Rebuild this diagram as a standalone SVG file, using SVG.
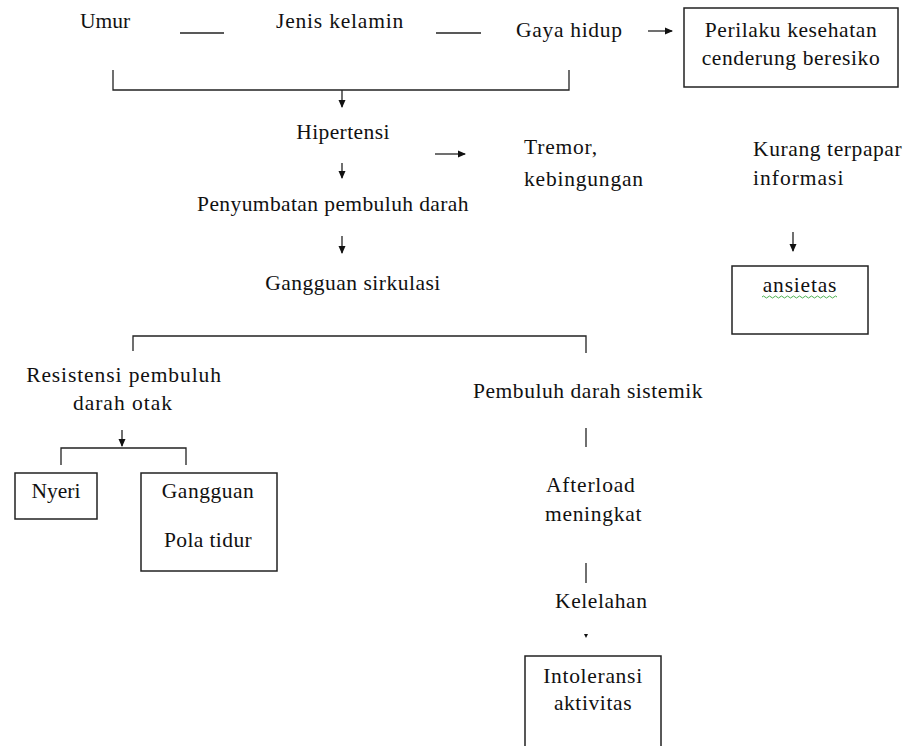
<svg xmlns="http://www.w3.org/2000/svg" width="910" height="746" viewBox="0 0 910 746">
<style>
text{font-family:"Liberation Serif","Times New Roman",serif;font-size:21.5px;fill:#111}
.c{text-anchor:middle}
.ln{stroke:#222;stroke-width:1.3;fill:none}
.bx{stroke:#222;stroke-width:1.5;fill:#fff}
</style>
<defs>
<marker id="ah" markerWidth="8" markerHeight="8" refX="7" refY="4" orient="auto" markerUnits="userSpaceOnUse">
<path d="M0,0.5 L8,4 L0,7.5 Z" fill="#111"/>
</marker>
</defs>
<rect width="910" height="746" fill="#fff"/>
<g id="connectors">
<line class="ln" x1="180" y1="33" x2="224" y2="33"/>
<line class="ln" x1="436" y1="33" x2="481" y2="33"/>
<line class="ln" x1="648" y1="31" x2="672" y2="31" marker-end="url(#ah)"/>
<polyline class="ln" points="113,70 113,90 569,90 569,70"/>
<line class="ln" x1="342" y1="90" x2="342" y2="107" marker-end="url(#ah)"/>
<line class="ln" x1="342" y1="163" x2="342" y2="178" marker-end="url(#ah)"/>
<line class="ln" x1="435" y1="154" x2="465" y2="154" marker-end="url(#ah)"/>
<line class="ln" x1="342" y1="236" x2="342" y2="253" marker-end="url(#ah)"/>
<line class="ln" x1="793" y1="232" x2="793" y2="251" marker-end="url(#ah)"/>
<polyline class="ln" points="133,351 133,336 586,336 586,353"/>
<line class="ln" x1="122" y1="430" x2="122" y2="446" marker-end="url(#ah)"/>
<polyline class="ln" points="61,465 61,448 186,448 186,465"/>
<line class="ln" x1="586" y1="428" x2="586" y2="447"/>
<line class="ln" x1="586" y1="563" x2="586" y2="583"/>
<path d="M584,634 L588,634 L586,638 Z" fill="#111"/>
</g>
<g id="umur"><text x="80" y="28">Umur</text></g>
<g id="jenis-kelamin"><text x="276" y="28" letter-spacing="0.8">Jenis kelamin</text></g>
<g id="gaya-hidup"><text x="516" y="37" letter-spacing="0.7">Gaya hidup</text></g>
<g id="perilaku">
<rect class="bx" x="684" y="8" width="214" height="79"/>
<text class="c" x="791" y="37" letter-spacing="0.6">Perilaku kesehatan</text>
<text class="c" x="791" y="65" letter-spacing="0.6">cenderung beresiko</text>
</g>
<g id="hipertensi"><text class="c" x="343" y="139" letter-spacing="0.4">Hipertensi</text></g>
<g id="tremor">
<text x="524" y="154" letter-spacing="0.8">Tremor,</text>
<text x="524" y="186" letter-spacing="0.8">kebingungan</text>
</g>
<g id="penyumbatan"><text class="c" x="333" y="211" letter-spacing="0.4">Penyumbatan pembuluh darah</text></g>
<g id="gangguan-sirkulasi"><text class="c" x="353" y="290" letter-spacing="0.5">Gangguan sirkulasi</text></g>
<g id="kurang-terpapar">
<text x="753" y="156" letter-spacing="0.6">Kurang terpapar</text>
<text x="753" y="185" letter-spacing="1">informasi</text>
</g>
<g id="ansietas">
<rect class="bx" x="732" y="266" width="136" height="68"/>
<text class="c" x="800" y="292" letter-spacing="0.8">ansietas</text>
<path d="M762,297 q1.5,-2 3,0 t3,0 t3,0 t3,0 t3,0 t3,0 t3,0 t3,0 t3,0 t3,0 t3,0 t3,0 t3,0 t3,0 t3,0 t3,0 t3,0 t3,0 t3,0 t3,0 t3,0 t3,0 t3,0 t3,0 t3,0" stroke="#4caf50" stroke-width="1" fill="none"/>
</g>
<g id="resistensi">
<text class="c" x="124" y="382" letter-spacing="0.9">Resistensi pembuluh</text>
<text class="c" x="123" y="410" letter-spacing="1">darah otak</text>
</g>
<g id="nyeri">
<rect class="bx" x="15" y="473" width="82" height="46"/>
<text class="c" x="56" y="498">Nyeri</text>
</g>
<g id="gangguan-pola-tidur">
<rect class="bx" x="141" y="473" width="136" height="98"/>
<text class="c" x="208" y="498" letter-spacing="0.5">Gangguan</text>
<text class="c" x="208" y="547" letter-spacing="0.4">Pola tidur</text>
</g>
<g id="pembuluh-sistemik"><text class="c" x="588" y="398" letter-spacing="0.55">Pembuluh darah sistemik</text></g>
<g id="afterload">
<text x="546" y="492" letter-spacing="0.8">Afterload</text>
<text x="545" y="521" letter-spacing="0.7">meningkat</text>
</g>
<g id="kelelahan"><text x="555" y="608" letter-spacing="0.6">Kelelahan</text></g>
<g id="intoleransi">
<rect class="bx" x="525" y="656" width="136" height="92"/>
<text class="c" x="593" y="683" letter-spacing="0.7">Intoleransi</text>
<text class="c" x="593" y="710" letter-spacing="0.6">aktivitas</text>
</g>
</svg>
